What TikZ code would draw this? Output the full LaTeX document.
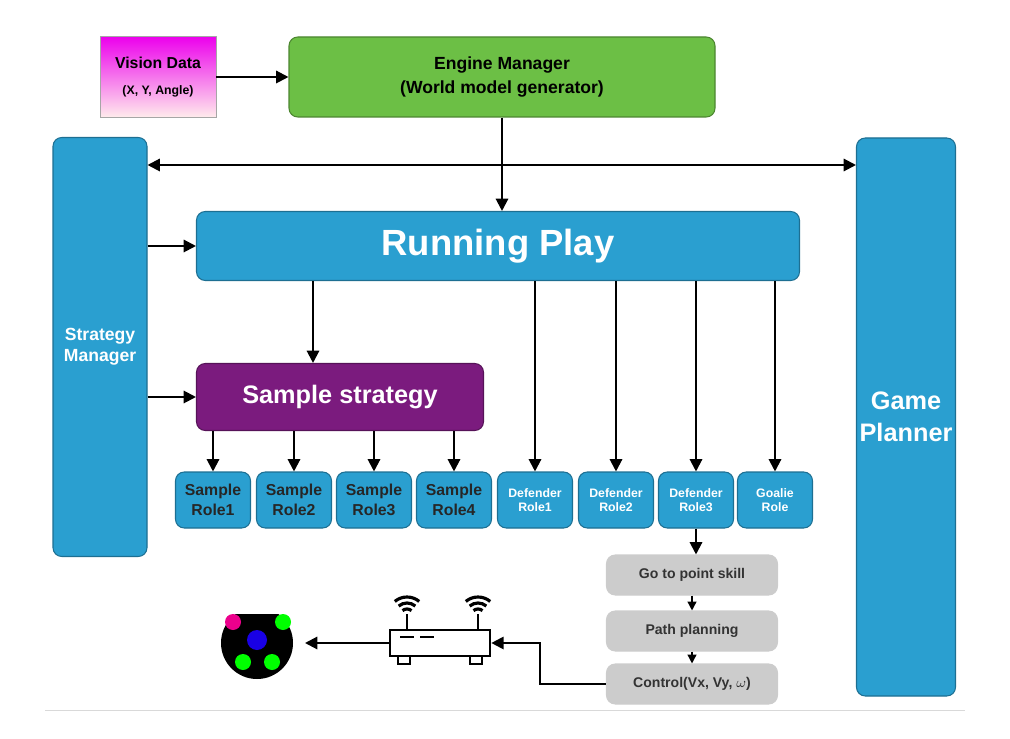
\documentclass[tikz,border=0pt]{standalone}
\usepackage{fontspec}
\setmainfont{Liberation Sans}
\usetikzlibrary{arrows.meta}
\definecolor{roleblue}{HTML}{2A9FD0}
\definecolor{engreen}{HTML}{6CBF45}
\definecolor{strpurple}{HTML}{7B1B7E}
\definecolor{skillgray}{HTML}{CCCCCC}
\tikzset{
  box/.style = {draw=#1!70!black, fill=#1, rounded corners=5pt, line width=0.6pt, align=center, font=\bfseries, inner sep=0pt},
  arr/.style = {-{Triangle[length=7pt,width=7pt]}, line width=1.2pt},
  sarr/.style = {-{Triangle[length=5pt,width=5pt]}, line width=0.8pt}
}
\begin{document}
\begin{tikzpicture}[x=0.02cm, y=-0.02cm]

\useasboundingbox (0,0) rectangle (1010,739);

% top row
\node[draw=gray!70, top color=magenta!85!violet, bottom color=pink!30, minimum width=116*0.02cm, minimum height=81*0.02cm, align=center, font=\bfseries, inner sep=0pt] (vision) at (158,77) {\small Vision Data\\[3pt] \scriptsize (X, Y, Angle)};
\node[box=engreen, minimum width=426*0.02cm, minimum height=80*0.02cm] (engine) at (502,77) {Engine Manager\\[2pt] (World model generator)};

% side managers
\node[box=roleblue, minimum width=94*0.02cm, minimum height=419*0.02cm, text=white] (strat) at (100,347) {Strategy\\Manager};
\node[box=roleblue, minimum width=99*0.02cm, minimum height=558*0.02cm, text=white, font=\bfseries\Large] (game) at (906,417) {Game\\Planner};

% plays
\node[box=roleblue, minimum width=603*0.02cm, minimum height=69*0.02cm, text=white, font=\bfseries\huge] (play) at (498,246) {Running Play};
\node[box=strpurple, minimum width=287*0.02cm, minimum height=67*0.02cm, text=white, font=\bfseries\Large] (sample) at (340,397) {Sample strategy};

% roles
\foreach \name/\x/\txt in {sr1/213/Sample\\Role1, sr2/294/Sample\\Role2, sr3/374/Sample\\Role3, sr4/454/Sample\\Role4}
  \node[box=roleblue, minimum width=75*0.02cm, minimum height=56*0.02cm, text=black!85, font=\bfseries\small] (\name) at (\x,500) {\txt};
\foreach \name/\x/\txt in {dr1/535/Defender\\Role1, dr2/616/Defender\\Role2, dr3/696/Defender\\Role3, gr/775/Goalie\\Role}
  \node[box=roleblue, minimum width=75*0.02cm, minimum height=56*0.02cm, text=white, font=\bfseries\scriptsize] (\name) at (\x,500) {\txt};

% skills
\node[box=skillgray, draw=skillgray, minimum width=171*0.02cm, minimum height=40*0.02cm, font=\bfseries\footnotesize, text=black!80] (goto) at (692,575) {Go to point skill};
\node[box=skillgray, draw=skillgray, minimum width=171*0.02cm, minimum height=40*0.02cm, font=\bfseries\footnotesize, text=black!80] (path) at (692,631) {Path planning};
\node[box=skillgray, draw=skillgray, minimum width=171*0.02cm, minimum height=40*0.02cm, font=\bfseries\footnotesize, text=black!80] (ctrl) at (692,684) {Control(Vx, Vy, $\omega$)};

% router
\node[draw, line width=1.5pt, minimum width=100*0.02cm, minimum height=26*0.02cm, inner sep=0pt] (router) at (440,643) {};
\draw[line width=1.5pt] (400,637) -- (414,637) (420,637) -- (434,637);
\draw[line width=1.3pt] (398,656) rectangle (410,664) (470,656) rectangle (482,664);
\foreach \x in {407,478} {
  \draw[line width=1.5pt] (\x,630) -- (\x,614);
  \foreach \r in {7,13,19} \draw[line width=1.8pt] (\x,616) ++(50:\r*0.02cm) arc[start angle=50, end angle=130, radius=\r*0.02cm];
}

% robot
\begin{scope}
  \clip (220,614) rectangle (295,680);
  \fill[black] (257,643) circle[radius=36*0.02cm];
\end{scope}
\fill[magenta] (233,622) circle[radius=8*0.02cm];
\fill[green] (283,622) circle[radius=8*0.02cm];
\fill[blue!80!violet] (257,640) circle[radius=10*0.02cm];
\fill[green] (243,662) circle[radius=8*0.02cm];
\fill[green] (272,662) circle[radius=8*0.02cm];
\coordinate (robot) at (305,643);

% connectors
\draw[arr] (vision) -- (engine);
\draw[arr, {Triangle[length=7pt,width=7pt]}-{Triangle[length=7pt,width=7pt]}] (strat.east |- 0,165) -- (game.west |- 0,165);
\draw[arr] (engine.south -| 502,0) -- (play.north -| 502,0);
\draw[arr] (strat.east |- play.west) -- (play.west);
\draw[arr] (strat.east |- sample.west) -- (sample.west);
\draw[arr] (play.south -| 313,0) -- (sample.north -| 313,0);
\foreach \n in {sr1,sr2,sr3,sr4} \draw[arr] (sample.south -| \n) -- (\n);
\foreach \n in {dr1,dr2,dr3,gr} \draw[arr] (play.south -| \n) -- (\n);
\draw[arr] (dr3) -- (dr3 |- goto.north);
\draw[sarr] (goto) -- (path);
\draw[sarr] (path) -- (ctrl);
\draw[arr] (ctrl.west) -- (540,684) -- (540,643) -- (router.east);
\draw[arr] (router.west) -- (robot);

\draw[gray!30] (45,710) -- (965,710);

\end{tikzpicture}
\end{document}
